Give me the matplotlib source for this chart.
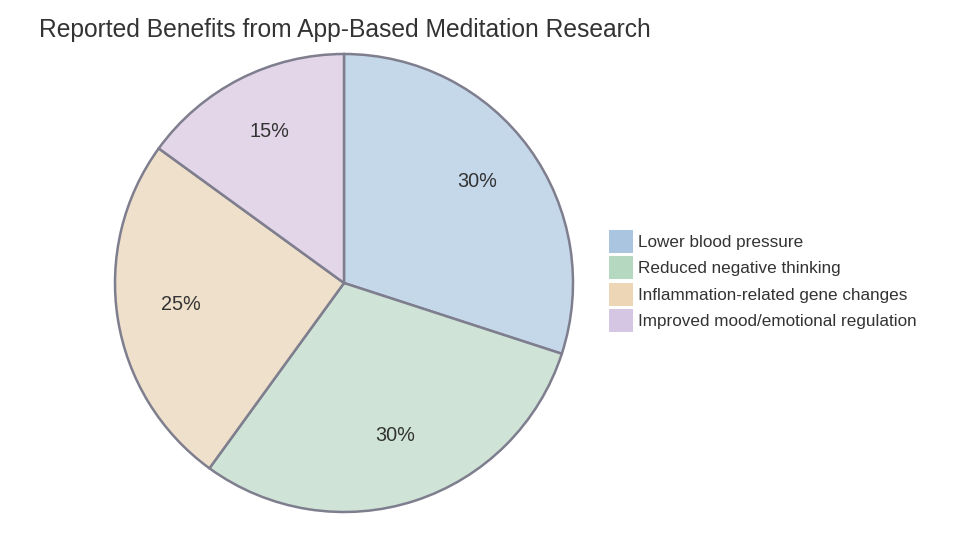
import matplotlib.pyplot as plt
from matplotlib.patches import Patch

plt.rcParams["font.family"] = ["Liberation Sans", "DejaVu Sans"]

# Data
labels = ["Lower blood pressure", "Reduced negative thinking",
          "Inflammation-related gene changes", "Improved mood/emotional regulation"]
values = [30, 30, 25, 15]
fill_colors = ["#C5D8EA", "#CFE3D6", "#EEE0CA", "#E2D6E8"]
legend_colors = ["#A9C5E0", "#B5D8C1", "#EDD6B6", "#D5C6E3"]

W, H = 967, 537
fig = plt.figure(figsize=(W / 100, H / 100), dpi=100)

cx, cy, r = 344, 283, 229
ax = fig.add_axes([(cx - r) / W, (H - cy - r) / H, 2 * r / W, 2 * r / H])
wedges, texts, autotexts = ax.pie(
    values, colors=fill_colors, startangle=90, counterclock=False,
    autopct="%1.0f%%", pctdistance=0.72, radius=1,
    wedgeprops=dict(edgecolor="#7E7E8E", linewidth=1.8),
    textprops=dict(fontsize=14.3, color="#333333"))
# nudge percentage labels up a little
for t in autotexts:
    x, y = t.get_position()
    t.set_position((x, y + 0.02))
ax.set_xlim(-1.0, 1.0)
ax.set_ylim(-1.0, 1.0)
ax.set_aspect("equal")
ax.axis("off")

fig.text(39 / W, 1 - 29.5 / H, "Reported Benefits from App-Based Meditation Research",
         fontsize=17.7, color="#333333", ha="left", va="center")

handles = [Patch(facecolor=c, edgecolor="none") for c in legend_colors]
fig.legend(handles, labels, loc="center left", bbox_to_anchor=(606 / W, 1 - 281 / H),
           frameon=False, fontsize=12.3, handlelength=1.38, handleheight=1.67,
           handletextpad=0.3, labelspacing=0.22, labelcolor="#333333",
           borderaxespad=0, borderpad=0.2)

fig.savefig("out.png", dpi=100, facecolor="white")
